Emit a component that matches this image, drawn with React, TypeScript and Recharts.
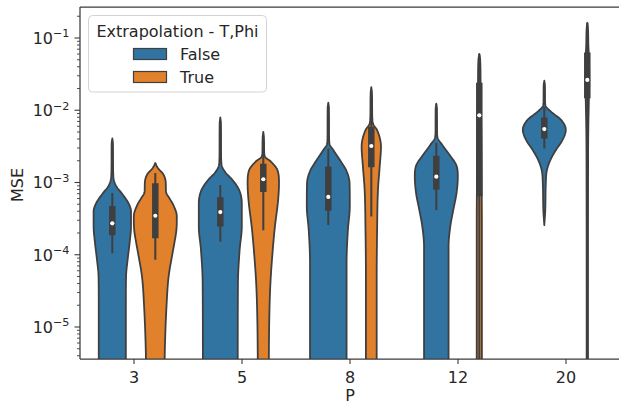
import React from 'react';
import { ComposedChart, Bar, XAxis, YAxis, Legend, Label, ReferenceLine } from 'recharts';

// ---------- data ----------
const categories = ['3', '5', '8', '12', '20'];
const hueNames = ['False', 'True'];
const hueColors = ['#3274a1', '#e1812c'];
const yTickExponents = [-5, -4, -3, -2, -1];
const yDomainExp = [-5.443, -0.571];

// inner box statistics, log10(MSE)
const falseWhiskerLow = [-3.98, -3.82, -3.59, -3.38, -2.53];
const falseQ1 = [-3.73, -3.61, -3.39, -3.1, -2.39];
const falseMedian = [-3.565, -3.41, -3.2, -2.92, -2.26];
const falseQ3 = [-3.325, -3.205, -2.78, -2.63, -2.1];
const falseWhiskerHigh = [-3.145, -3.035, -2.53, -2.45, -1.95];

const trueWhiskerLow = [-4.07, -3.66, -3.47, -5.8, -5.8];
const trueQ1 = [-3.77, -3.13, -2.79, -3.19, -1.835];
const trueMedian = [-3.46, -2.955, -2.495, -2.07, -1.58];
const trueQ3 = [-3.01, -2.74, -2.23, -1.62, -1.2];
const trueWhiskerHigh = [-2.87, -2.52, -2.0, -1.22, -0.79];

// violin density profiles: [log10(MSE), relative half-width]
const falseProfiles: number[][][] = [
  [[-2.39, 0], [-2.46, 0.03], [-2.7, 0.035], [-2.92, 0.05], [-3.05, 0.18], [-3.15, 0.44], [-3.28, 0.74], [-3.4, 0.87], [-3.6, 0.87], [-3.85, 0.8], [-4.05, 0.72], [-4.3, 0.64], [-4.7, 0.63], [-5.7, 0.63]],
  [[-2.1, 0], [-2.18, 0.03], [-2.5, 0.035], [-2.74, 0.05], [-2.85, 0.21], [-2.97, 0.58], [-3.1, 0.87], [-3.29, 1.0], [-3.61, 1.0], [-3.93, 0.9], [-4.4, 0.82], [-5.7, 0.81]],
  [[-1.895, 0], [-1.97, 0.03], [-2.3, 0.035], [-2.46, 0.05], [-2.55, 0.23], [-2.69, 0.54], [-2.83, 0.83], [-3.01, 0.99], [-3.33, 1.0], [-3.66, 0.91], [-4.12, 0.85], [-5.7, 0.85]],
  [[-1.91, 0], [-1.98, 0.03], [-2.25, 0.035], [-2.37, 0.05], [-2.48, 0.28], [-2.62, 0.62], [-2.76, 0.93], [-2.92, 1.0], [-3.15, 0.94], [-3.38, 0.79], [-3.61, 0.65], [-3.89, 0.57], [-5.7, 0.57]],
  [[-1.59, 0], [-1.66, 0.03], [-1.85, 0.035], [-1.93, 0.05], [-2.02, 0.31], [-2.13, 0.77], [-2.27, 1.0], [-2.41, 0.85], [-2.55, 0.54], [-2.69, 0.28], [-2.83, 0.12], [-3.01, 0.07], [-3.38, 0.045], [-3.59, 0]],
];
const trueProfiles: number[][][] = [
  [[-2.73, 0], [-2.8, 0.12], [-2.88, 0.36], [-2.95, 0.46], [-3.03, 0.49], [-3.13, 0.5], [-3.22, 0.66], [-3.3, 0.82], [-3.47, 1.0], [-3.66, 0.98], [-3.85, 0.88], [-3.98, 0.8], [-4.3, 0.62], [-4.72, 0.52], [-5.36, 0.44], [-5.7, 0.43]],
  [[-2.3, 0], [-2.38, 0.03], [-2.55, 0.04], [-2.64, 0.07], [-2.71, 0.35], [-2.83, 0.66], [-3.01, 0.73], [-3.24, 0.69], [-3.61, 0.54], [-3.93, 0.44], [-4.4, 0.33], [-4.86, 0.28], [-5.7, 0.25]],
  [[-1.68, 0], [-1.76, 0.03], [-2.0, 0.04], [-2.18, 0.07], [-2.27, 0.26], [-2.39, 0.4], [-2.5, 0.45], [-2.78, 0.39], [-3.1, 0.31], [-3.66, 0.27], [-4.35, 0.25], [-5.7, 0.25]],
  [[-1.22, 0], [-1.3, 0.04], [-1.6, 0.06], [-2.0, 0.08], [-2.5, 0.1], [-3.0, 0.11], [-3.6, 0.12], [-5.7, 0.12]],
  [[-0.79, 0], [-0.87, 0.03], [-1.1, 0.05], [-1.3, 0.08], [-1.6, 0.09], [-1.9, 0.07], [-2.3, 0.045], [-3.0, 0.035], [-4.5, 0.03], [-5.7, 0.03]],
];

// ---------- derived tables ----------
const stats = [
  { lo: falseWhiskerLow, q1: falseQ1, med: falseMedian, q3: falseQ3, hi: falseWhiskerHigh, prof: falseProfiles },
  { lo: trueWhiskerLow, q1: trueQ1, med: trueMedian, q3: trueQ3, hi: trueWhiskerHigh, prof: trueProfiles },
];

const rows = categories.map((p, i) => ({
  p,
  False: [Math.pow(10, falseQ1[i]), Math.pow(10, falseQ3[i])],
  True: [Math.pow(10, trueQ1[i]), Math.pow(10, trueQ3[i])],
}));

const yTicks: number[] = [];
for (let e = -6; e <= 0; e++) {
  for (let m = 1; m <= 9; m++) {
    const v = m * Math.pow(10, e);
    const lv = Math.log10(v);
    if (lv >= yDomainExp[0] && lv <= yDomainExp[1]) yTicks.push(v);
  }
}

const GRAY = '#3f3f3f';
const AXIS = '#3a3a3a';
const TEXT = '#262626';
const FONT = '"DejaVu Sans", sans-serif';

// monotone cubic sampling of w(l)
function sampleProfile(pts: number[][], steps = 10): number[][] {
  const n = pts.length;
  const xs = pts.map((p) => -p[0]);
  const ys = pts.map((p) => p[1]);
  const d: number[] = [];
  const h: number[] = [];
  for (let k = 0; k < n - 1; k++) {
    h.push(xs[k + 1] - xs[k]);
    d.push((ys[k + 1] - ys[k]) / (xs[k + 1] - xs[k]));
  }
  const m: number[] = new Array(n).fill(0);
  m[0] = d[0];
  m[n - 1] = d[n - 2];
  for (let k = 1; k < n - 1; k++) {
    m[k] = d[k - 1] * d[k] <= 0 ? 0 : (d[k - 1] + d[k]) / 2;
  }
  for (let k = 0; k < n - 1; k++) {
    if (d[k] === 0) {
      m[k] = 0;
      m[k + 1] = 0;
    } else {
      const a = m[k] / d[k];
      const b = m[k + 1] / d[k];
      const s = a * a + b * b;
      if (s > 9) {
        const tau = 3 / Math.sqrt(s);
        m[k] = tau * a * d[k];
        m[k + 1] = tau * b * d[k];
      }
    }
  }
  const out: number[][] = [];
  for (let k = 0; k < n - 1; k++) {
    for (let s = 0; s < steps; s++) {
      const t = s / steps;
      const t2 = t * t;
      const t3 = t2 * t;
      const h00 = 2 * t3 - 3 * t2 + 1;
      const h10 = t3 - 2 * t2 + t;
      const h01 = -2 * t3 + 3 * t2;
      const h11 = t3 - t2;
      const yv = h00 * ys[k] + h10 * h[k] * m[k] + h01 * ys[k + 1] + h11 * h[k] * m[k + 1];
      out.push([-(xs[k] + t * h[k]), Math.max(0, yv)]);
    }
  }
  out.push([pts[n - 1][0], pts[n - 1][1]]);
  return out;
}

function makeViolinShape(hue: number) {
  return (props: any) => {
    const { x, y, width, height, payload, background } = props;
    const i = categories.indexOf(payload.p);
    const st = stats[hue];
    const l1 = st.q1[i];
    const l3 = st.q3[i];
    const py = (l: number) => y + ((l3 - l) * height) / (l3 - l1);
    const cx = x + width / 2;
    const hm = width / 2;
    const prof = sampleProfile(st.prof[i]);
    const right = prof.map(([l, w]) => `${(cx + w * hm).toFixed(2)},${py(l).toFixed(2)}`);
    const left = prof
      .slice()
      .reverse()
      .map(([l, w]) => `${(cx - w * hm).toFixed(2)},${py(l).toFixed(2)}`);
    const d = `M${right.join('L')}L${left.join('L')}Z`;
    const clipId = `vclip-${hue}-${i}`;
    const clip = background
      ? { x: x - 60, y: background.y, width: width + 120, height: background.height }
      : null;
    return (
      <g>
        {clip && (
          <defs>
            <clipPath id={clipId}>
              <rect x={clip.x} y={clip.y} width={clip.width} height={clip.height} />
            </clipPath>
          </defs>
        )}
        <g clipPath={clip ? `url(#${clipId})` : undefined}>
          <path d={d} fill={hueColors[hue]} stroke={GRAY} strokeWidth={1.8} strokeLinejoin="round" />
          <line x1={cx} x2={cx} y1={py(st.lo[i])} y2={py(st.hi[i])} stroke={GRAY} strokeWidth={2} />
          <line x1={cx} x2={cx} y1={py(st.q1[i])} y2={py(st.q3[i])} stroke={GRAY} strokeWidth={6.5} />
          <circle cx={cx} cy={py(st.med[i])} r={2.1} fill="#ffffff" />
        </g>
      </g>
    );
  };
}

const YTick = (props: any) => {
  const { x, y, payload } = props;
  const lv = Math.log10(payload.value);
  const major = Math.abs(lv - Math.round(lv)) < 1e-6;
  const exp = Math.round(lv);
  return (
    <g>
      <line x1={x - (major ? 5.5 : 3)} x2={x} y1={y} y2={y} stroke={AXIS} strokeWidth={major ? 1.1 : 0.9} />
      {major && yTickExponents.includes(exp) && (
        <text x={x - 10.5} y={y} dy="0.36em" textAnchor="end" fontSize={16} fill={TEXT} fontFamily={FONT}>
          10
          <tspan dy={-6.5} fontSize={11.2}>
            {'\u2212' + String(Math.abs(exp))}
          </tspan>
        </text>
      )}
    </g>
  );
};

const renderLegend = (props: any) => {
  const payload = (props.payload || []) as any[];
  return (
    <svg width={180} height={78} style={{ display: 'block' }}>
      <rect x={0.5} y={0.5} width={178} height={76.5} rx={4} fill="rgba(255,255,255,0.85)" stroke="#d3d3d3" strokeWidth={1} />
      <text x={89.5} y={21.7} textAnchor="middle" fontSize={16} fill={TEXT} fontFamily={FONT}>
        Extrapolation - T,Phi
      </text>
      {payload.map((entry, k) => (
        <g key={String(entry.value)}>
          <rect x={45.5} y={33.5 + k * 23} width={33} height={11} fill={entry.color} stroke={GRAY} strokeWidth={1.2} />
          <text x={92} y={44.5 + k * 23.3} fontSize={16} fill={TEXT} fontFamily={FONT}>
            {entry.value}
          </text>
        </g>
      ))}
    </svg>
  );
};

export default function App() {
  return (
    <div style={{ position: 'absolute', left: 0, top: 0, width: 619, height: 405, overflow: 'hidden', background: '#fff' }}>
      <ComposedChart
        width={622}
        height={405}
        data={rows}
        margin={{ top: 7, right: 2, bottom: 0, left: 0 }}
        barCategoryGap="10%"
        barGap={0}
      >
        <XAxis
          dataKey="p"
          type="category"
          height={46}
          tickSize={5}
          tickMargin={8}
          tick={{ fontSize: 16, fill: TEXT, fontFamily: FONT }}
          tickLine={{ stroke: AXIS, strokeWidth: 1.1 }}
          axisLine={{ stroke: AXIS, strokeWidth: 1.25 }}
        >
          <Label value="P" position="insideBottom" offset={4} style={{ fontSize: 16, fill: TEXT, fontFamily: FONT }} />
        </XAxis>
        <YAxis
          type="number"
          scale="log"
          domain={[Math.pow(10, yDomainExp[0]), Math.pow(10, yDomainExp[1])]}
          allowDataOverflow
          ticks={yTicks}
          interval={0}
          width={80}
          tickSize={0}
          tickMargin={0}
          tickLine={false}
          tick={(p: any) => <YTick {...p} />}
          axisLine={{ stroke: AXIS, strokeWidth: 1.25 }}
        >
          <Label
            content={(lp: any) => {
              const vb = lp.viewBox || { x: 0, y: 7, width: 80, height: 352 };
              const cy = vb.y + vb.height / 2 + 2;
              const tx = 22.5;
              return (
                <text
                  x={tx}
                  y={cy}
                  transform={`rotate(-90, ${tx}, ${cy})`}
                  textAnchor="middle"
                  fontSize={16}
                  fill={TEXT}
                  fontFamily={FONT}
                >
                  MSE
                </text>
              );
            }}
          />
        </YAxis>
        <ReferenceLine
          y={Math.pow(10, yDomainExp[1])}
          stroke={AXIS}
          strokeWidth={1.25}
          ifOverflow="extendDomain"
        />
        <Legend
          layout="vertical"
          align="center"
          verticalAlign="middle"
          wrapperStyle={{ left: 88, top: 15, width: 180, height: 78 }}
          content={renderLegend}
        />
        {hueNames.map((name, hue) => (
          <Bar
            key={name}
            dataKey={name}
            name={name}
            fill={hueColors[hue]}
            isAnimationActive={false}
            shape={makeViolinShape(hue)}
          />
        ))}
      </ComposedChart>
    </div>
  );
}
